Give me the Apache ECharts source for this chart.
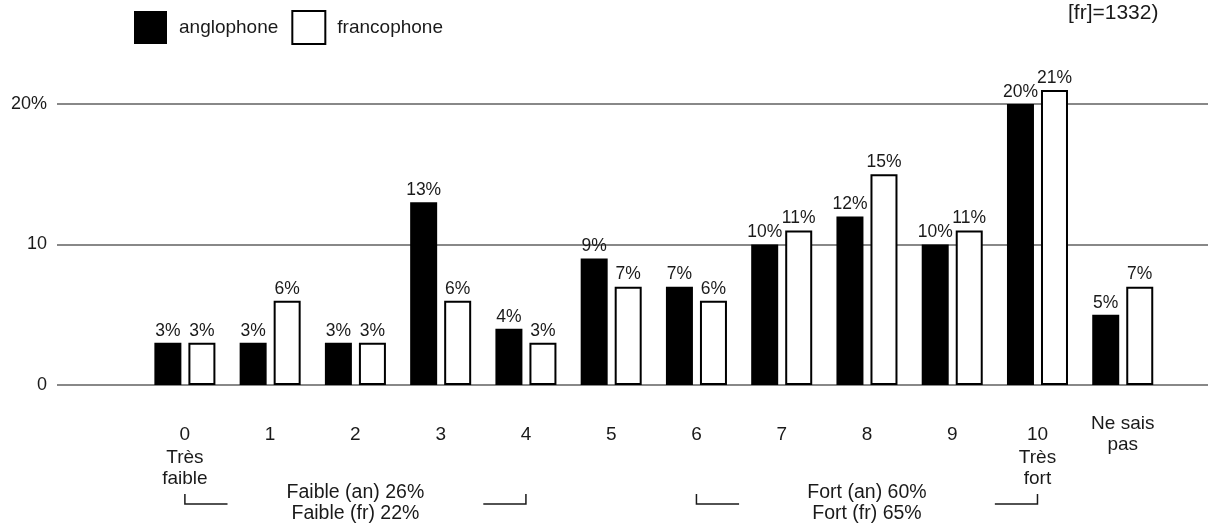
<!DOCTYPE html>
<html lang="fr">

<head>
    <meta charset="UTF-8">
    <title>anglophone / francophone</title>
    <script src="https://cdn.jsdelivr.net/npm/echarts/dist/echarts.min.js"></script>
    <style>
        body { margin: 0; background: #fff; }
    </style>
</head>

<body>
    <div id="chart" style="width: 1208px; height: 529px;"></div>
    <script>
        // categories on the x axis (index = position)
        const categories = ['0', '1', '2', '3', '4', '5', '6', '7', '8', '9', '10', 'Ne sais pas'];
        // percentages
        const anglophone = [3, 3, 3, 13, 4, 9, 7, 10, 12, 10, 20, 5];
        const francophone = [3, 6, 3, 6, 3, 7, 6, 11, 15, 11, 21, 7];
        const yTicks = [0, 10, 20];

        const FONT = '"Liberation Sans", Arial, Helvetica, sans-serif';

        const chart = echarts.init(document.getElementById('chart'));

        const options = {
            animation: false,
            textStyle: { fontFamily: FONT, color: '#1a1a1a' },
            legend: {
                left: 134,
                top: 10,
                padding: 0,
                icon: 'rect',
                itemWidth: 33,
                itemHeight: 33,
                itemGap: 13,
                textStyle: { fontFamily: FONT, fontSize: 19, color: '#1a1a1a', padding: [0, 0, 0, 7] },
                data: ['anglophone', 'francophone']
            },
            grid: { left: 57, right: 0, top: 104, bottom: 144 },
            xAxis: {
                type: 'value',
                min: -1.5,
                max: 12,
                splitLine: { show: false },
                axisLine: { show: false },
                axisTick: { show: false },
                axisLabel: {
                    customValues: categories.map((c, i) => i),
                    margin: 38,
                    formatter: function (v) {
                        const c = categories[v];
                        if (c === '0') return '{n|0}\n{s|Très}\n{s|faible}';
                        if (c === '10') return '{n|10}\n{s|Très}\n{s|fort}';
                        if (c === 'Ne sais pas') return '{q|Ne sais}\n{p|pas}';
                        return '{n|' + c + '}';
                    },
                    rich: {
                        n: { fontFamily: FONT, fontSize: 19, lineHeight: 24, color: '#1a1a1a' },
                        s: { fontFamily: FONT, fontSize: 19, lineHeight: 21, color: '#1a1a1a' },
                        q: { fontFamily: FONT, fontSize: 19, lineHeight: 2, color: '#1a1a1a' },
                        p: { fontFamily: FONT, fontSize: 19, lineHeight: 40, color: '#1a1a1a' }
                    }
                }
            },
            yAxis: {
                type: 'value',
                min: 0,
                max: 20,
                interval: 10,
                axisLine: { show: false },
                axisTick: { show: false },
                splitLine: { lineStyle: { color: '#888', width: 1.8 } },
                axisLabel: {
                    margin: 10,
                    fontFamily: FONT,
                    fontSize: 18,
                    color: '#1a1a1a',
                    customValues: yTicks,
                    formatter: v => (v === 20 ? '20%' : String(v))
                }
            },
            series: [
                {
                    name: 'anglophone',
                    type: 'bar',
                    clip: false,
                    barWidth: 27,
                    barGap: '26%',
                    data: anglophone.map((v, i) => [i, v]),
                    itemStyle: { color: '#000' },
                    label: {
                        show: true, position: 'top', distance: 3,
                        fontFamily: FONT, fontSize: 17.5, color: '#1a1a1a',
                        formatter: p => p.value[1] + '%'
                    }
                },
                {
                    name: 'francophone',
                    type: 'bar',
                    clip: false,
                    barWidth: 27,
                    barGap: '26%',
                    data: francophone.map((v, i) => [i, v]),
                    itemStyle: { color: '#fff', borderColor: '#000', borderWidth: 2 },
                    label: {
                        show: true, position: 'top', distance: 3,
                        fontFamily: FONT, fontSize: 17.5, color: '#1a1a1a',
                        formatter: p => p.value[1] + '%'
                    }
                }
            ]
        };

        chart.setOption(options);

        // brackets + group totals under the axis
        const px = v => chart.convertToPixel({ xAxisIndex: 0 }, v);
        const bTop = 494, bBot = 504;
        const bracket = (xv, xh) => ({
            type: 'polyline',
            shape: { points: [[px(xv), bTop], [px(xv), bBot], [px(xh), bBot]] },
            style: { stroke: '#1a1a1a', lineWidth: 1.5, fill: null }
        });
        const groupText = (xc, txt) => ({
            type: 'text',
            x: px(xc),
            y: 482,
            style: {
                text: txt, fontFamily: FONT, fontSize: 19.5, lineHeight: 21,
                fill: '#1a1a1a', align: 'center', verticalAlign: 'top'
            }
        });

        chart.setOption({
            graphic: [
                bracket(0, 0.5),
                bracket(4, 3.5),
                groupText(2, 'Faible (an) 26%\nFaible (fr) 22%'),
                bracket(6, 6.5),
                bracket(10, 9.5),
                groupText(8, 'Fort (an) 60%\nFort (fr) 65%'),
                {
                    type: 'text',
                    x: 1068,
                    y: 3,
                    style: { text: '[fr]=1332)', fontFamily: FONT, fontSize: 21, fill: '#1a1a1a' }
                }
            ]
        });
    </script>
</body>

</html>
